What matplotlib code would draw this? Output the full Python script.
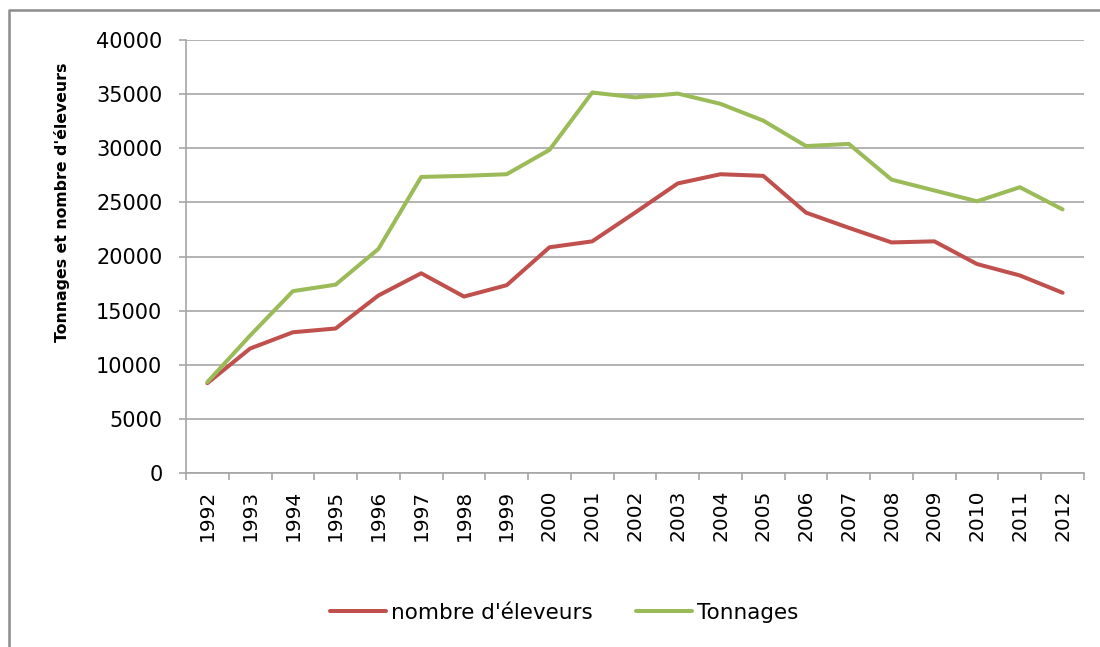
import numpy as np
import matplotlib
matplotlib.use('Agg')
import matplotlib.pyplot as plt
from matplotlib.lines import Line2D

# Données
annees = [str(a) for a in range(1992, 2013)]
eleveurs = [8300, 11500, 13000, 13350, 16400, 18450, 16300, 17350, 20850, 21400,
            24050, 26750, 27600, 27450, 24050, 22650, 21300, 21400, 19300, 18250, 16650]
tonnages = [8400, 12700, 16800, 17400, 20700, 27350, 27450, 27600, 29850, 35150,
            34700, 35050, 34100, 32550, 30200, 30400, 27100, 26100, 25100, 26400, 24350]

rouge = '#C0504D'
vert = '#9BBB59'
gris = '#A6A6A6'

plt.rcParams['font.family'] = 'DejaVu Sans'

fig = plt.figure(figsize=(11, 6.47), dpi=100)
ax = fig.add_axes([186 / 1100, 1 - 473 / 647, (1084 - 186) / 1100, (473 - 40) / 647])

x = np.arange(len(annees))
ax.plot(x, eleveurs, color=rouge, linewidth=2.9, label="nombre d'éleveurs", solid_capstyle='round')
ax.plot(x, tonnages, color=vert, linewidth=2.9, label='Tonnages', solid_capstyle='round')

ax.set_xlim(-0.5, len(annees) - 0.5)
ax.set_ylim(0, 40000)
ax.set_yticks(np.arange(0, 40001, 5000))
ax.yaxis.grid(True, color=gris, linewidth=1.2)
ax.set_axisbelow(True)

# ticks des catégories : marques entre les années, étiquettes au centre
ax.set_xticks(x)
ax.set_xticklabels(annees, rotation=90, fontsize=14.5)
ax.set_xticks(np.arange(-0.5, len(annees), 1), minor=True)
ax.tick_params(axis='x', which='major', length=0, pad=12)
ax.tick_params(axis='x', which='minor', length=5, color=gris, width=1.2)
ax.tick_params(axis='y', length=5, color=gris, width=1.2, pad=12, labelsize=15)

for s in ['top', 'right']:
    ax.spines[s].set_visible(False)
for s in ['left', 'bottom']:
    ax.spines[s].set_color(gris)
    ax.spines[s].set_linewidth(1.2)

fig.text(62 / 1100, 1 - 202 / 647, "Tonnages et nombre d'éleveurs", rotation=90,
         fontsize=11.3, fontweight='bold', ha='center', va='center')

fig.legend(loc='center', bbox_to_anchor=(564 / 1100, 1 - 613 / 647), ncol=2,
           frameon=False, fontsize=15.5, handlelength=2.6, handletextpad=0.25,
           columnspacing=2.0)

# cadre extérieur (seulement haut et gauche visibles)
fig.lines.append(Line2D([9 / 1100, 9 / 1100, 1], [0, 1 - 10 / 647, 1 - 10 / 647],
                        transform=fig.transFigure, color='#8C8C8C', linewidth=1.8))

fig.savefig('out.png', dpi=100)
